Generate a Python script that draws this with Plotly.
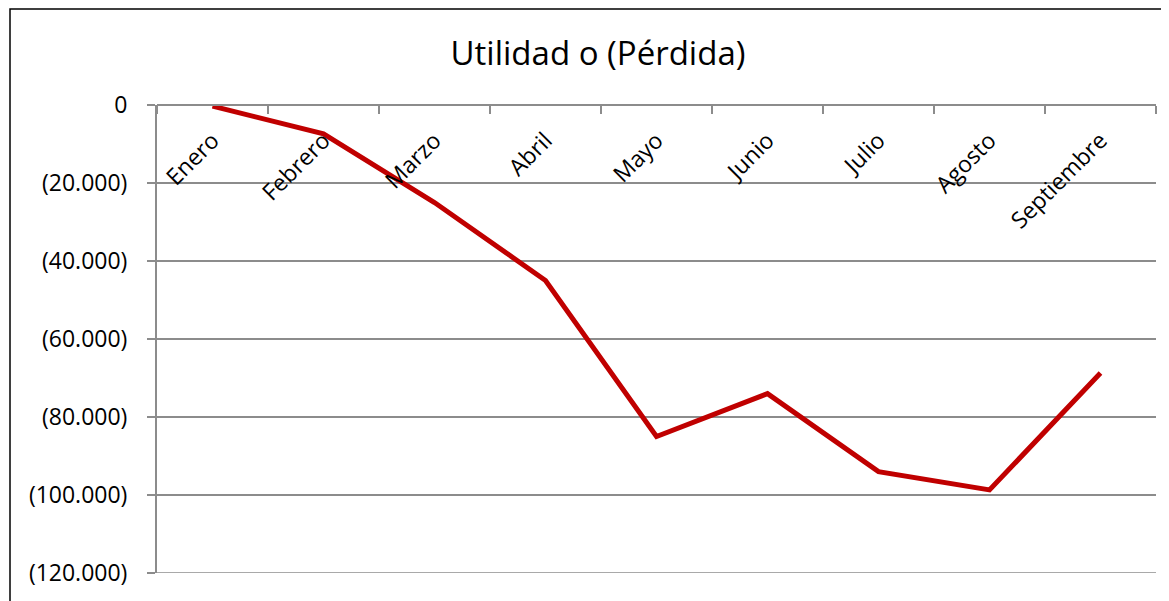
import plotly.graph_objects as go

# Monthly profit / (loss) values
meses = ["Enero", "Febrero", "Marzo", "Abril", "Mayo", "Junio", "Julio", "Agosto", "Septiembre"]
utilidad = [-300, -7400, -25000, -45000, -85000, -74000, -94000, -98700, -68700]

y_ticks = [0, -20000, -40000, -60000, -80000, -100000, -120000]
y_labels = ["0", "(20.000)", "(40.000)", "(60.000)", "(80.000)", "(100.000)", "(120.000)"]

# the page body has an 8px margin, so work in figure pixels = page pixels - 8
OFF = 8
W, H = 1169 - OFF, 601 - OFF
# plot area (page pixels)
L, R, T, B = 157 - OFF, 1156 - OFF, 105 - OFF, 573 - OFF

GRID = "#8c8c8c"

fig = go.Figure()

fig.add_trace(go.Scatter(
    x=meses,
    y=utilidad,
    mode="lines",
    line=dict(color="#C00000", width=5),
    showlegend=False,
    hoverinfo="x+y",
))

pw, ph = R - L, B - T


def px_to_paper_x(px):
    return (px - L) / pw


def px_to_paper_y(py):
    return (B - py) / ph


# outer chart frame (Excel chart area border)
fig.add_shape(
    type="rect", xref="paper", yref="paper",
    x0=px_to_paper_x(2), x1=px_to_paper_x(1160),
    y0=px_to_paper_y(610), y1=px_to_paper_y(1),
    line=dict(color="black", width=1.5),
    fillcolor="rgba(0,0,0,0)",
    layer="below",
)

# plotly skips the gridline at the range edge, draw the bottom one explicitly
fig.add_shape(
    type="line", xref="paper", yref="y",
    x0=0, x1=1, y0=min(y_ticks), y1=min(y_ticks),
    line=dict(color=GRID, width=1.5),
    layer="below",
)

fig.update_layout(
    width=W,
    height=H,
    margin=dict(l=L, r=W - R, t=T, b=H - B),
    paper_bgcolor="white",
    plot_bgcolor="white",
    font=dict(family="Open Sans", size=18, color="black"),
    title=dict(
        text="Utilidad o (Pérdida)",
        x=(598 - OFF) / W,
        xanchor="center",
        y=1 - (53 - OFF) / H,
        yanchor="middle",
        font=dict(family="Open Sans", size=33, color="black"),
    ),
    xaxis=dict(
        type="category",
        range=[-0.5, len(meses) - 0.5],
        anchor="free",
        position=1,
        side="bottom",
        tickson="boundaries",
        ticks="outside",
        ticklen=8,
        tickwidth=1.5,
        tickcolor=GRID,
        tickangle=-45,
        ticklabelstandoff=12,
        showline=True,
        linecolor=GRID,
        linewidth=2,
        showgrid=False,
        automargin=False,
        tickfont=dict(family="Open Sans", size=23, color="black"),
    ),
    yaxis=dict(
        range=[-120000, 0],
        tickvals=y_ticks,
        ticktext=y_labels,
        ticks="outside",
        ticklen=8,
        tickwidth=1.5,
        tickcolor=GRID,
        ticklabelstandoff=15,
        showline=True,
        linecolor=GRID,
        linewidth=2,
        showgrid=True,
        gridcolor=GRID,
        gridwidth=1.5,
        zeroline=False,
        automargin=False,
        tickfont=dict(family="Open Sans", size=23, color="black"),
    ),
)

fig.write_html("out.html")
